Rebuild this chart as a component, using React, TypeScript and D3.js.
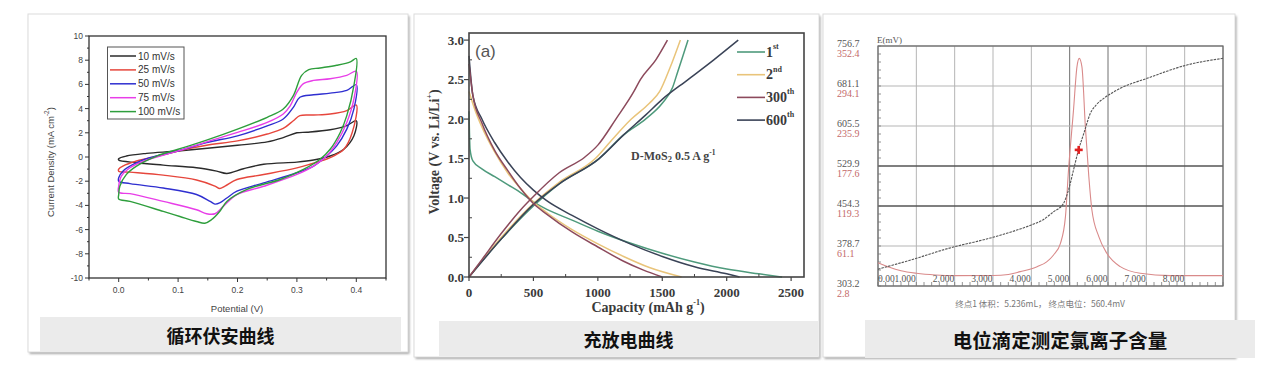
import React from 'react';
import * as d3 from 'd3';

const SANS = '"Liberation Sans", Arial, sans-serif';
const SERIF = '"Liberation Serif", "Times New Roman", serif';
const CJK = '"Noto Sans CJK SC", sans-serif';

type P = [number, number];

// ---------------- Panel 1: cyclic voltammetry ----------------
const cvLabels = ['10 mV/s', '25 mV/s', '50 mV/s', '75 mV/s', '100 mV/s'];
const cvColors = ['#2b2b2b', '#e6463c', '#2f2fd0', '#e83ee8', '#2e9e3c'];
const cv10: P[] = [[0.0,-0.14],[0.013,0.08],[0.047,0.3],[0.1,0.5],[0.2,0.97],[0.25,1.25],[0.277,1.6],[0.3,2.0],[0.317,2.05],[0.356,2.25],[0.384,2.6],[0.4,3.0],[0.396,1.75],[0.379,0.64],[0.356,0.08],[0.328,-0.25],[0.3,-0.42],[0.244,-0.6],[0.21,-0.97],[0.182,-1.36],[0.165,-1.17],[0.131,-0.89],[0.075,-0.67],[0.03,-0.47],[0.0,-0.25]];
const cv25: P[] = [[0.0,-1.0],[0.007,-0.75],[0.03,-0.33],[0.075,0.17],[0.1,0.5],[0.148,0.97],[0.2,1.33],[0.25,1.9],[0.277,2.36],[0.294,3.0],[0.305,3.42],[0.328,3.47],[0.356,3.55],[0.384,3.83],[0.4,4.3],[0.393,2.0],[0.379,0.64],[0.356,-0.05],[0.322,-0.6],[0.3,-0.9],[0.244,-1.45],[0.199,-1.86],[0.179,-2.4],[0.17,-2.6],[0.162,-2.4],[0.131,-1.9],[0.075,-1.5],[0.019,-1.25],[0.0,-1.17]];
const cv50: P[] = [[0.0,-1.72],[0.007,-1.17],[0.03,-0.47],[0.052,-0.06],[0.1,0.5],[0.148,1.19],[0.2,1.75],[0.25,2.58],[0.277,3.14],[0.294,4.1],[0.305,4.94],[0.328,5.14],[0.356,5.28],[0.384,5.5],[0.4,5.97],[0.396,3.97],[0.384,2.3],[0.367,0.92],[0.35,0.08],[0.328,-0.75],[0.3,-1.3],[0.244,-2.14],[0.199,-2.83],[0.182,-3.39],[0.17,-3.8],[0.162,-3.89],[0.154,-3.67],[0.131,-3.1],[0.075,-2.56],[0.019,-2.2],[0.0,-2.0]];
const cv75: P[] = [[0.0,-2.4],[0.0045,-1.58],[0.019,-0.89],[0.047,-0.25],[0.1,0.5],[0.148,1.25],[0.2,2.03],[0.25,2.86],[0.277,3.56],[0.289,4.25],[0.3,5.36],[0.311,6.06],[0.328,6.33],[0.356,6.47],[0.384,6.75],[0.4,7.08],[0.396,4.8],[0.384,2.86],[0.367,1.19],[0.35,0.08],[0.328,-0.75],[0.3,-1.44],[0.244,-2.42],[0.199,-3.11],[0.176,-4.08],[0.162,-4.69],[0.148,-4.69],[0.131,-4.36],[0.075,-3.67],[0.019,-3.03],[0.0,-2.92]];
const cv100: P[] = [[0.0,-3.11],[0.002,-2.4],[0.013,-1.44],[0.03,-0.75],[0.064,0.08],[0.1,0.64],[0.148,1.39],[0.2,2.3],[0.25,3.28],[0.277,3.97],[0.294,5.08],[0.308,6.75],[0.32,7.22],[0.339,7.36],[0.367,7.58],[0.39,7.86],[0.4,8.14],[0.396,5.92],[0.384,3.42],[0.373,2.03],[0.356,0.64],[0.339,-0.19],[0.311,-1.03],[0.272,-1.86],[0.215,-2.69],[0.182,-3.67],[0.17,-4.5],[0.156,-5.19],[0.145,-5.47],[0.131,-5.33],[0.103,-4.92],[0.075,-4.5],[0.019,-3.67],[0.0,-3.47]];
const cvSeries = [cv10, cv25, cv50, cv75, cv100];
const cvXTicks = [0, 0.1, 0.2, 0.3, 0.4];
const cvYTicks = [-10, -8, -6, -4, -2, 0, 2, 4, 6, 8, 10];

// ---------------- Panel 2: charge / discharge ----------------
const gcdLabels = ['1', '2', '300', '600'];
const gcdSups = ['st', 'nd', 'th', 'th'];
const gcdColors = ['#4e9a7c', '#e9c47a', '#8c4a5c', '#3a4357'];
const dis1: P[] = [[0,2.1],[8,1.62],[30,1.47],[100,1.37],[200,1.27],[300,1.17],[400,1.07],[500,0.95],[600,0.86],[800,0.72],[1000,0.58],[1250,0.43],[1500,0.3],[1750,0.19],[2000,0.1],[2250,0.04],[2430,0.0]];
const dis2: P[] = [[0,2.35],[50,2.1],[100,1.9],[200,1.58],[300,1.32],[400,1.12],[500,0.95],[600,0.82],[800,0.6],[1000,0.42],[1200,0.26],[1400,0.12],[1650,0.0]];
const dis300: P[] = [[0,2.7],[30,2.3],[100,1.95],[200,1.6],[300,1.35],[400,1.12],[500,0.93],[600,0.8],[800,0.57],[1000,0.38],[1200,0.2],[1350,0.09],[1500,0.0]];
const dis600: P[] = [[0,2.8],[30,2.3],[100,2.0],[200,1.7],[300,1.46],[400,1.26],[500,1.1],[600,0.97],[800,0.78],[1000,0.61],[1250,0.42],[1500,0.26],[1750,0.13],[2000,0.04],[2100,0.0]];
const chg1: P[] = [[0,0],[250,0.48],[500,0.9],[700,1.18],[1010,1.5],[1200,1.8],[1370,2.0],[1500,2.2],[1580,2.4],[1620,2.6],[1660,2.8],[1700,3.0]];
const chg2: P[] = [[0,0],[250,0.5],[500,0.93],[700,1.2],[980,1.5],[1100,1.72],[1260,2.0],[1400,2.2],[1480,2.35],[1560,2.65],[1640,3.0]];
const chg300: P[] = [[0,0],[100,0.22],[250,0.55],[400,0.85],[500,1.02],[700,1.32],[900,1.52],[1000,1.67],[1140,2.0],[1280,2.35],[1330,2.5],[1450,2.75],[1540,3.0]];
const chg600: P[] = [[0,0],[250,0.48],[500,0.92],[700,1.18],[1010,1.5],[1200,1.8],[1370,2.05],[1500,2.25],[1700,2.5],[1900,2.75],[2090,3.0]];
const gcdDischarge = [dis1, dis2, dis300, dis600];
const gcdCharge = [chg1, chg2, chg300, chg600];
const gcdXTicks = [0, 500, 1000, 1500, 2000, 2500];
const gcdYTicks = [0, 0.5, 1.0, 1.5, 2.0, 2.5, 3.0];

// ---------------- Panel 3: potentiometric titration ----------------
const titE: P[] = [[0,335],[0.5,345],[1,355.5],[1.5,367],[2,377.5],[2.5,386],[3,395.2],[3.5,406],[4,418.5],[4.3,428],[4.58,443.6],[4.84,459.4],[4.97,484.6],[5.1,522.4],[5.23,560.2],[5.37,591.7],[5.54,629.5],[5.7,646],[5.89,657.8],[6.32,676.7],[7.02,695.6],[8.06,720.8],[9,733.4]];
const titDE: P[] = [[0,36.8],[0.3,30],[0.6,25],[1,21.3],[1.5,18.8],[2,17.9],[3,18],[3.4,19.5],[3.71,23.7],[4.15,31],[4.4,38],[4.58,48],[4.76,65],[4.89,103.8],[4.97,171.8],[5.1,259],[5.19,322],[5.25,334.4],[5.32,322],[5.41,234.6],[5.5,162],[5.58,113.5],[5.76,74.7],[5.97,50.4],[6.32,31],[6.84,21.3],[7.63,17.9],[9,17.9]];
const titEndpoint: P = [5.236, 560.4];
const titELabels = ['303.2', '378.7', '454.3', '529.9', '605.5', '681.1', '756.7'];
const titDLabels = ['2.8', '61.1', '119.3', '177.6', '235.9', '294.1', '352.4'];
const titXLabels = ['0.00', '1.000', '2.000', '3.000', '4.000', '5.000', '6.000', '7.000', '8.000'];
const titFooter = '终点1 体积：5.236mL， 终点电位：560.4mV';

const captions = ['循环伏安曲线', '充放电曲线', '电位滴定测定氯离子含量'];

function Card({ x, y, w, h }: { x: number; y: number; w: number; h: number }) {
  return (
    <g>
      <rect x={x + 1.5} y={y + 2} width={w} height={h} fill="#a9a9a9" filter="url(#blur)" />
      <rect x={x} y={y} width={w} height={h} fill="#fff" stroke="#dcdcdc" strokeWidth={1} />
    </g>
  );
}

function Caption({ x, y, w, h, text, size }: { x: number; y: number; w: number; h: number; text: string; size: number }) {
  return (
    <g>
      <rect x={x} y={y} width={w} height={h} fill="#ebebeb" />
      <text x={x + w / 2} y={y + h / 2} textAnchor="middle" dominantBaseline="central"
        fontFamily={CJK} fontWeight={700} fontSize={size} fill="#111">{text}</text>
    </g>
  );
}

function CVPanel() {
  const x = d3.scaleLinear().domain([-0.05, 0.45]).range([89, 386]);
  const y = d3.scaleLinear().domain([-10, 10]).range([278, 36]);
  const line = d3.line<P>().x(d => x(d[0])).y(d => y(d[1])).curve(d3.curveCatmullRomClosed.alpha(0.5));
  const yMinor = d3.range(-9, 10, 2);
  const xMinor = [-0.05, 0.05, 0.15, 0.25, 0.35, 0.45];
  const tc = '#444';
  return (
    <g>
      {cvSeries.map((s, i) => (
        <path key={i} d={line(s) || ''} fill="none" stroke={cvColors[i]} strokeWidth={1.4} />
      ))}
      <rect x={89} y={36} width={297} height={242} fill="none" stroke="#333" strokeWidth={1.3} />
      {cvYTicks.map(t => (
        <g key={t}>
          <line x1={85} x2={89} y1={y(t)} y2={y(t)} stroke="#333" />
          <text x={83} y={y(t)} textAnchor="end" dominantBaseline="central" fontFamily={SANS} fontSize={8.5} fill={tc}>{t}</text>
        </g>
      ))}
      {yMinor.map(t => <line key={t} x1={87} x2={89} y1={y(t)} y2={y(t)} stroke="#333" />)}
      {cvXTicks.map(t => (
        <g key={t}>
          <line x1={x(t)} x2={x(t)} y1={278} y2={282} stroke="#333" />
          <text x={x(t)} y={290} textAnchor="middle" dominantBaseline="central" fontFamily={SANS} fontSize={8.5} fill={tc}>{t.toFixed(1)}</text>
        </g>
      ))}
      {xMinor.map(t => <line key={t} x1={x(t)} x2={x(t)} y1={278} y2={280.5} stroke="#333" />)}
      <text x={237} y={308} textAnchor="middle" dominantBaseline="central" fontFamily={SANS} fontSize={9.5} fill={tc}>Potential (V)</text>
      <text transform="translate(50,162) rotate(-90)" textAnchor="middle" dominantBaseline="central" fontFamily={SANS} fontSize={9.5} fill={tc}>
        Current Density (mA cm<tspan dy={-4} fontSize={6.5}>-2</tspan><tspan dy={4}>)</tspan>
      </text>
      <rect x={107.5} y={47} width={76.5} height={72} fill="#fff" stroke="#555" strokeWidth={1} />
      {cvLabels.map((l, i) => (
        <g key={l}>
          <line x1={110} x2={136} y1={56 + i * 13.9} y2={56 + i * 13.9} stroke={cvColors[i]} strokeWidth={1.5} />
          <text x={138} y={56 + i * 13.9} dominantBaseline="central" fontFamily={SANS} fontSize={10} fill="#333">{l}</text>
        </g>
      ))}
    </g>
  );
}

function GCDPanel() {
  const x = d3.scaleLinear().domain([0, 2600]).range([469, 804]);
  const y = d3.scaleLinear().domain([0, 3.09]).range([277, 33]);
  const line = d3.line<P>().x(d => x(d[0])).y(d => y(d[1])).curve(d3.curveMonotoneX);
  const xMinor = d3.range(250, 2600, 500);
  const yMinor = d3.range(0.25, 3.09, 0.5);
  const ac = '#3a3a3a';
  const order = [0, 1, 3, 2];
  return (
    <g>
      {order.map(i => (
        <g key={i}>
          <path d={line(gcdDischarge[i]) || ''} fill="none" stroke={gcdColors[i]} strokeWidth={1.5} />
          <path d={line(gcdCharge[i]) || ''} fill="none" stroke={gcdColors[i]} strokeWidth={1.5} />
        </g>
      ))}
      <rect x={469} y={33} width={335} height={244} fill="none" stroke="#444" strokeWidth={1.6} />
      {gcdYTicks.map(t => (
        <g key={t}>
          <line x1={464} x2={469} y1={y(t)} y2={y(t)} stroke="#444" strokeWidth={1.2} />
          <text x={464} y={y(t)} textAnchor="end" dominantBaseline="central" fontFamily={SERIF} fontWeight={700} fontSize={13} fill={ac}>{t.toFixed(1)}</text>
        </g>
      ))}
      {yMinor.map(t => <line key={t} x1={469} x2={472} y1={y(t)} y2={y(t)} stroke="#444" />)}
      {gcdXTicks.map(t => (
        <g key={t}>
          <line x1={x(t)} x2={x(t)} y1={277} y2={281} stroke="#444" strokeWidth={1.2} />
          <text x={x(t)} y={292} textAnchor="middle" dominantBaseline="central" fontFamily={SERIF} fontWeight={700} fontSize={13} fill={ac}>{t}</text>
        </g>
      ))}
      {xMinor.map(t => <line key={t} x1={x(t)} x2={x(t)} y1={277} y2={274} stroke="#444" />)}
      <text x={648} y={307} textAnchor="middle" dominantBaseline="central" fontFamily={SERIF} fontWeight={700} fontSize={14} fill={ac}>
        Capacity (mAh g<tspan dy={-5} fontSize={8}>-1</tspan><tspan dy={5}>)</tspan>
      </text>
      <text transform="translate(434,152) rotate(-90)" textAnchor="middle" dominantBaseline="central" fontFamily={SERIF} fontWeight={700} fontSize={14} fill={ac}>
        Voltage (V vs. Li/Li<tspan dy={-5} fontSize={8}>+</tspan><tspan dy={5}>)</tspan>
      </text>
      <text x={475} y={51} dominantBaseline="central" fontFamily={SANS} fontSize={17} fill="#555">(a)</text>
      <text x={631} y={156} dominantBaseline="central" fontFamily={SERIF} fontWeight={700} fontSize={12} fill="#444">
        D-MoS<tspan dy={3} fontSize={8.5}>2</tspan><tspan dy={-3}>{'  0.5 A g'}</tspan><tspan dy={-4.5} fontSize={7.5}>-1</tspan>
      </text>
      {gcdLabels.map((l, i) => {
        const yy = 52 + i * 22.7;
        return (
          <g key={l}>
            <line x1={737} x2={765} y1={yy} y2={yy} stroke={gcdColors[i]} strokeWidth={1.6} />
            <text x={766} y={yy} dominantBaseline="central" fontFamily={SERIF} fontWeight={700} fontSize={14} fill={ac}>
              {l}<tspan dy={-6} fontSize={8}>{gcdSups[i]}</tspan>
            </text>
          </g>
        );
      })}
    </g>
  );
}

function TitrationPanel() {
  const x0 = 878, x1 = 1223, y0 = 46, y1 = 286;
  const x = d3.scaleLinear().domain([0, 9]).range([x0, x1]);
  const yE = d3.scaleLinear().domain([303.2, 756.7]).range([y1, y0]);
  const yD = d3.scaleLinear().domain([2.8, 352.4]).range([y1, y0]);
  const lineE = d3.line<P>().x(d => x(d[0])).y(d => yE(d[1])).curve(d3.curveMonotoneX);
  const lineD = d3.line<P>().x(d => x(d[0])).y(d => yD(d[1])).curve(d3.curveMonotoneX);
  const vGrid = d3.range(0, 10);
  const hGrid = d3.range(0, 7);
  const rowH = (y1 - y0) / 6;
  const dark = (i: number) => i === 5 || i === 6;
  const darkH = (i: number) => i === 2 || i === 3;
  const minorX = d3.range(0, 9.01, 0.2);
  const minorY = d3.range(0, 6.01, 0.2);
  const [ex, ey] = titEndpoint;
  return (
    <g>
      {vGrid.map(i => (
        <line key={'v' + i} x1={x(i)} x2={x(i)} y1={y0} y2={y1} stroke={dark(i) ? '#707070' : '#b5b5b5'} strokeWidth={1} />
      ))}
      {hGrid.map(i => (
        <line key={'h' + i} x1={x0} x2={x1} y1={y1 - i * rowH} y2={y1 - i * rowH} stroke={darkH(i) ? '#555' : '#b5b5b5'} strokeWidth={darkH(i) ? 1.3 : 1} />
      ))}
      <rect x={x0} y={y0} width={x1 - x0} height={y1 - y0} fill="none" stroke="#666" strokeWidth={1.2} />
      {minorX.map((t, i) => <line key={'mx' + i} x1={x(t)} x2={x(t)} y1={y1} y2={y1 - 4} stroke="#777" strokeWidth={0.8} />)}
      {minorY.map((t, i) => <line key={'my' + i} x1={x0} x2={x0 + 3} y1={y1 - t * rowH} y2={y1 - t * rowH} stroke="#777" strokeWidth={0.8} />)}
      <path d={lineD(titDE) || ''} fill="none" stroke="#d98a8a" strokeWidth={1.1} />
      <path d={lineE(titE) || ''} fill="none" stroke="#555" strokeWidth={1.1} strokeDasharray="2.5,1" />
      <g transform={`translate(${x(ex)},${yE(ey)})`}>
        <rect x={-4} y={-1.3} width={8} height={2.6} fill="#e02020" />
        <rect x={-1.3} y={-4} width={2.6} height={8} fill="#e02020" />
      </g>
      {titELabels.map((l, i) => (
        <g key={l}>
          <text x={837} y={y1 - i * rowH + 1} fontFamily={SERIF} fontSize={10} fill="#555">{l}</text>
          <text x={837} y={y1 - i * rowH + 11} fontFamily={SERIF} fontSize={10} fill="#c46a6a">{titDLabels[i]}</text>
        </g>
      ))}
      <text x={877} y={43} fontFamily={SERIF} fontSize={9} fill="#555">E(mV)</text>
      {titXLabels.map((l, i) => (
        <text key={l} x={i === 0 ? x0 : x(i) - 0.5} y={282} textAnchor={i === 0 ? 'start' : 'end'} fontFamily={SERIF} fontSize={9.5} fill="#555">{l}</text>
      ))}
      <text x={1040} y={303} textAnchor="middle" dominantBaseline="central" fontFamily={CJK} fontSize={8.5} fill="#777">{titFooter}</text>
    </g>
  );
}

export default function App() {
  return (
    <svg width={1267} height={377} style={{ position: 'absolute', left: 0, top: 0, background: '#fff' }}
      xmlns="http://www.w3.org/2000/svg">
      <defs>
        <filter id="blur" x="-5%" y="-5%" width="110%" height="110%">
          <feGaussianBlur stdDeviation={1.2} />
        </filter>
      </defs>
      <rect x={0} y={0} width={1267} height={377} fill="#fff" />
      <Card x={28} y={14} w={380} h={338} />
      <Card x={414} y={14} w={405} h={343} />
      <Card x={823} y={14} w={412} h={343} />
      <CVPanel />
      <GCDPanel />
      <TitrationPanel />
      <Caption x={40} y={317} w={361} h={35} text={captions[0]} size={18} />
      <Caption x={439} y={321} w={379} h={35} text={captions[1]} size={18} />
      <Caption x={865} y={320} w={390} h={38} text={captions[2]} size={19.5} />
    </svg>
  );
}
